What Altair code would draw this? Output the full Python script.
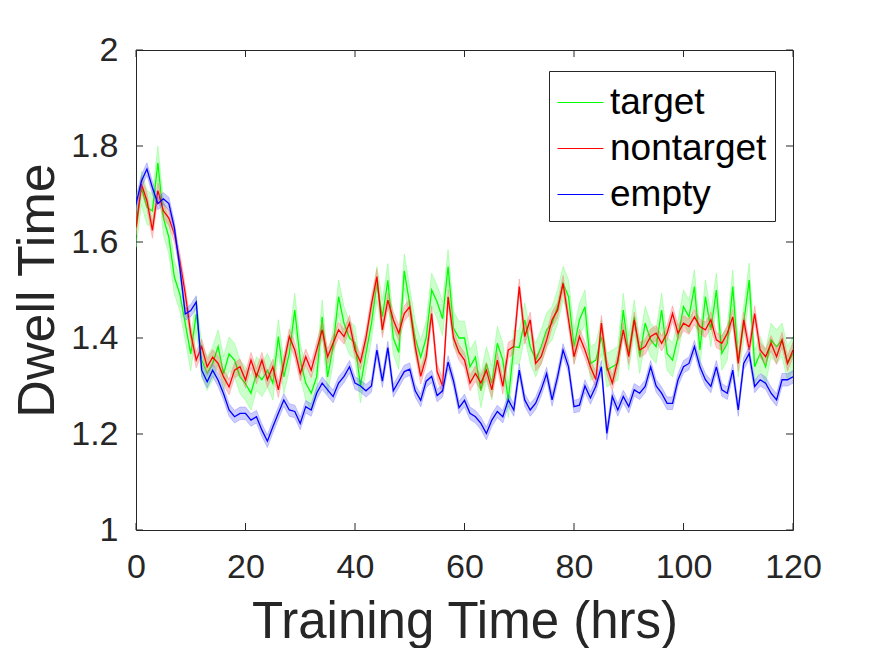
import altair as alt
import pandas as pd

hours = list(range(121))

target = [1.624, 1.713, 1.672, 1.665, 1.765, 1.65, 1.61, 1.527, 1.492, 1.43,
          1.367, 1.45, 1.354, 1.326, 1.347, 1.382, 1.326, 1.367, 1.354, 1.319,
          1.305, 1.285, 1.326, 1.313, 1.333, 1.306, 1.403, 1.319, 1.368, 1.458,
          1.354, 1.306, 1.285, 1.319, 1.444, 1.319, 1.382, 1.486, 1.43, 1.40,
          1.39, 1.30, 1.368, 1.43, 1.514, 1.444, 1.52, 1.40, 1.37, 1.54,
          1.47, 1.40, 1.36, 1.40, 1.50, 1.475, 1.44, 1.549, 1.42, 1.40,
          1.40, 1.34, 1.36, 1.29, 1.347, 1.306, 1.389, 1.354, 1.27, 1.382,
          1.38, 1.438, 1.382, 1.354, 1.382, 1.417, 1.431, 1.465, 1.514, 1.486,
          1.382, 1.438, 1.465, 1.347, 1.354, 1.403, 1.333, 1.34, 1.347, 1.458,
          1.368, 1.444, 1.361, 1.431, 1.396, 1.382, 1.458, 1.368, 1.354, 1.403,
          1.465, 1.444, 1.507, 1.375, 1.486, 1.417, 1.5, 1.368, 1.389, 1.507,
          1.354, 1.431, 1.521, 1.34, 1.368, 1.34, 1.396, 1.382, 1.396, 1.347,
          1.368]

nontarget = [1.63, 1.72, 1.686, 1.624, 1.707, 1.665, 1.65, 1.617, 1.561, 1.492,
             1.409, 1.354, 1.382, 1.34, 1.36, 1.347, 1.319, 1.298, 1.333, 1.34,
             1.312, 1.354, 1.32, 1.354, 1.313, 1.34, 1.292, 1.347, 1.403, 1.375,
             1.326, 1.361, 1.333, 1.375, 1.417, 1.361, 1.389, 1.417, 1.403, 1.431,
             1.375, 1.35, 1.40, 1.47, 1.528, 1.417, 1.479, 1.438, 1.41, 1.451,
             1.465, 1.382, 1.32, 1.36, 1.451, 1.33, 1.30, 1.486, 1.40, 1.37,
             1.354, 1.306, 1.326, 1.306, 1.333, 1.292, 1.354, 1.299, 1.375, 1.382,
             1.507, 1.403, 1.438, 1.347, 1.361, 1.396, 1.438, 1.458, 1.514, 1.438,
             1.361, 1.403, 1.375, 1.34, 1.313, 1.431, 1.34, 1.306, 1.354, 1.417,
             1.361, 1.438, 1.375, 1.382, 1.403, 1.41, 1.389, 1.41, 1.451, 1.41,
             1.431, 1.424, 1.444, 1.424, 1.417, 1.438, 1.396, 1.389, 1.41, 1.444,
             1.347, 1.438, 1.375, 1.451, 1.375, 1.361, 1.389, 1.361, 1.396, 1.347,
             1.375]

empty = [1.679, 1.727, 1.752, 1.713, 1.68, 1.69, 1.68, 1.63, 1.547, 1.45,
         1.457, 1.475, 1.333, 1.309, 1.333, 1.312, 1.284, 1.25, 1.236, 1.243,
         1.243, 1.229, 1.236, 1.208, 1.185, 1.215, 1.243, 1.271, 1.25, 1.247,
         1.222, 1.257, 1.25, 1.285, 1.306, 1.292, 1.278, 1.306, 1.32, 1.34,
         1.306, 1.30, 1.29, 1.30, 1.375, 1.31, 1.38, 1.29, 1.31, 1.33,
         1.335, 1.29, 1.27, 1.31, 1.32, 1.28, 1.29, 1.35, 1.31, 1.255,
         1.27, 1.243, 1.236, 1.222, 1.201, 1.229, 1.247, 1.236, 1.271, 1.25,
         1.333, 1.271, 1.25, 1.264, 1.292, 1.326, 1.271, 1.319, 1.375, 1.34,
         1.257, 1.26, 1.30, 1.275, 1.30, 1.34, 1.201, 1.278, 1.25, 1.278,
         1.257, 1.292, 1.285, 1.299, 1.34, 1.30, 1.285, 1.264, 1.264, 1.313,
         1.34, 1.347, 1.382, 1.34, 1.313, 1.299, 1.34, 1.292, 1.285, 1.333,
         1.25, 1.347, 1.368, 1.299, 1.313, 1.306, 1.285, 1.271, 1.313, 1.313,
         1.319]

# standard-error half widths of the shaded bands
target_sem = 0.035
nontarget_sem = 0.016
empty_sem = 0.013

series_names = ["target", "nontarget", "empty"]
series_colors = ["#00ff00", "#ff0000", "#0000ff"]
band_edge_colors = ["#80ff80", "#ff8c8c", "#8c8cff"]

x_ticks = [0, 20, 40, 60, 80, 100, 120]
y_ticks = [1, 1.2, 1.4, 1.6, 1.8, 2]

FONT = "Liberation Sans"
W, H = 657, 480

x_scale = alt.Scale(domain=[0, 120], nice=False, zero=False)
y_scale = alt.Scale(domain=[1, 2], nice=False, zero=False)
color_scale = alt.Scale(domain=series_names, range=series_colors)

x_axis = alt.Axis(values=x_ticks, ticks=False, tickSize=0, domain=False, grid=False,
                  labelFlush=False, labelOverlap=False,
                  labelFontSize=34, labelPadding=20, labelColor="#262626", labelFont=FONT,
                  title="Training Time (hrs)", titleFontSize=51, titleFont=FONT,
                  titleFontWeight="normal", titleColor="#262626",
                  titleY=107, titleBaseline="alphabetic")
y_axis = alt.Axis(values=y_ticks, ticks=False, tickSize=0, domain=False, grid=False,
                  labelFlush=False, labelOverlap=False,
                  format="~g",
                  labelFontSize=34, labelPadding=18, labelColor="#262626", labelFont=FONT,
                  title="Dwell Time", titleFontSize=52, titleFont=FONT,
                  titleFontWeight="normal", titleColor="#262626",
                  titleX=-83, titleBaseline="alphabetic")

legend = alt.Legend(orient="none", legendX=413, legendY=21, title=None,
                    symbolType="stroke", symbolSize=2116, symbolStrokeWidth=1,
                    labelFontSize=37, labelFont=FONT, labelColor="#000000",
                    labelOffset=6, labelLimit=400, rowPadding=4, padding=8,
                    strokeColor="#262626", fillColor="#ffffff")


def X(field):
    return alt.X(field, scale=x_scale, axis=x_axis)


def Y(field):
    return alt.Y(field, scale=y_scale, axis=y_axis)


frames = []
for name, vals, sem in zip(series_names, [target, nontarget, empty],
                           [target_sem, nontarget_sem, empty_sem]):
    frames.append(pd.DataFrame({
        "hrs": hours,
        "dwell": vals,
        "lo": [v - sem for v in vals],
        "hi": [v + sem for v in vals],
        "series": name,
    }))

layers = []
for i, (name, df) in enumerate(zip(series_names, frames)):
    base = alt.Chart(df)
    band = base.mark_area(fill=series_colors[i], fillOpacity=0.2,
                          stroke=band_edge_colors[i], strokeOpacity=0.6,
                          strokeWidth=0.8, clip=True).encode(
        x=X("hrs:Q"),
        y=Y("lo:Q"),
        y2="hi:Q",
    )
    line = base.mark_line(strokeWidth=1.3, clip=True).encode(
        x=X("hrs:Q"),
        y=Y("dwell:Q"),
        color=alt.Color("series:N", scale=color_scale, legend=legend),
    )
    layers += [band, line]

xt = pd.DataFrame({"t": x_ticks})
yt = pd.DataFrame({"t": y_ticks})
tick_color = "#262626"
x_bottom = alt.Chart(xt).mark_rule(color=tick_color, strokeWidth=1).encode(
    x=X("t:Q"), y=alt.value(H), y2=alt.value(H - 7))
x_top = alt.Chart(xt).mark_rule(color=tick_color, strokeWidth=1).encode(
    x=X("t:Q"), y=alt.value(0), y2=alt.value(7))
y_left = alt.Chart(yt).mark_rule(color=tick_color, strokeWidth=1).encode(
    y=Y("t:Q"), x=alt.value(0), x2=alt.value(7))
y_right = alt.Chart(yt).mark_rule(color=tick_color, strokeWidth=1).encode(
    y=Y("t:Q"), x=alt.value(W), x2=alt.value(W - 7))

chart = alt.layer(*layers, x_bottom, x_top, y_left, y_right).properties(
    width=W, height=H,
    autosize=alt.AutoSizeParams(type="none"),
    padding={"left": 128, "top": 42, "right": 70, "bottom": 118},
    background="#ffffff",
).configure_view(stroke="#262626", strokeWidth=1)

chart.save("out.html", embed_options={"renderer": "svg", "actions": False})
